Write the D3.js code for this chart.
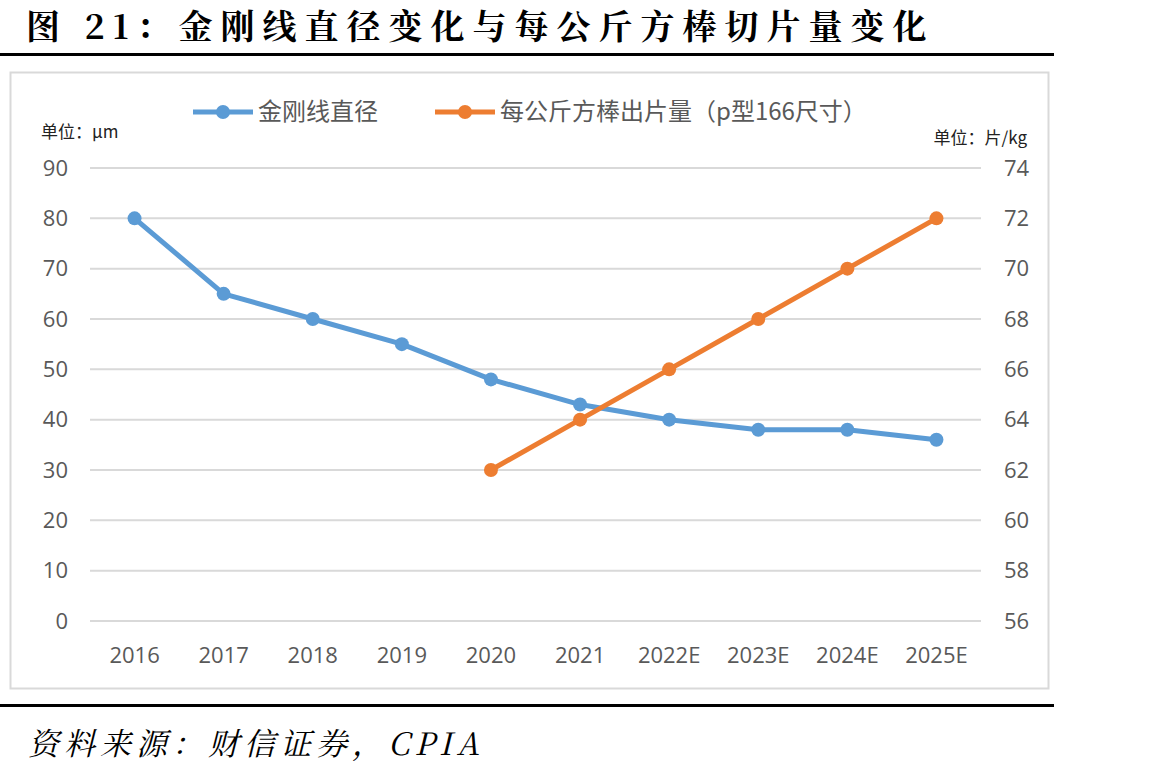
<!DOCTYPE html>
<html>
<head>
<meta charset="utf-8">
<script src="https://cdn.jsdelivr.net/npm/d3@7"></script>
<style>
  body { margin: 0; background: #fff; }
</style>
</head>
<body>
<div id="chart"></div>
<script>
// data
const years = ['2016', '2017', '2018', '2019', '2020', '2021', '2022E', '2023E', '2024E', '2025E'];
const wireDiameter = [80, 65, 60, 55, 48, 43, 40, 38, 38, 36];
const wafersPerKg = [null, null, null, null, 62, 64, 66, 68, 70, 72];
const leftTicks = [0, 10, 20, 30, 40, 50, 60, 70, 80, 90];
const rightTicks = [56, 58, 60, 62, 64, 66, 68, 70, 72, 74];
const seriesNames = ['金刚线直径', '每公斤方棒出片量（p型166尺寸）'];

const w = 1157, h = 774;
const blue = '#5B9BD5', orange = '#ED7D31', grey = '#595959';
const cjk = '"Noto Sans CJK SC", "Noto Sans", sans-serif';
const num = '"Open Sans", "Noto Sans CJK SC", sans-serif';
const serif = '"Noto Serif CJK SC", "Liberation Serif", "DejaVu Serif", serif';

const svg = d3.select('#chart').append('svg')
  .attr('width', w).attr('height', h);

// title + rules
svg.append('text').attr('x', 26).attr('y', 39)
  .style('font-family', serif).style('font-weight', 'bold').style('font-size', '34px')
  .style('letter-spacing', '8px')
  .text('图 21：金刚线直径变化与每公斤方棒切片量变化');
svg.append('rect').attr('x', 0).attr('y', 53).attr('width', 1054).attr('height', 3).attr('fill', '#000');
svg.append('rect').attr('x', 0).attr('y', 704).attr('width', 1054).attr('height', 3).attr('fill', '#000');
svg.append('text').attr('x', 28).attr('y', 755)
  .style('font-family', serif).style('font-style', 'italic').style('font-size', '31px')
  .style('letter-spacing', '5px')
  .text('资料来源：财信证券，CPIA');

// chart frame
svg.append('rect').attr('x', 10.5).attr('y', 72.5).attr('width', 1038).attr('height', 616)
  .attr('fill', '#fff').attr('stroke', '#d9d9d9').attr('stroke-width', 2);

// scales
const xScale = d3.scaleBand().domain(years).range([90, 981]);
const yLeft = d3.scaleLinear().domain([0, 90]).range([621, 168]);
const yRight = d3.scaleLinear().domain([56, 74]).range([621, 168]);
const cx = d => xScale(d) + xScale.bandwidth() / 2;

// gridlines
svg.append('g').selectAll('line').data(leftTicks).enter().append('line')
  .attr('x1', 90).attr('x2', 981)
  .attr('y1', d => yLeft(d)).attr('y2', d => yLeft(d))
  .attr('stroke', '#d9d9d9').attr('stroke-width', 2);

// axes
const yAxisL = svg.append('g').attr('transform', 'translate(68,0)')
  .call(d3.axisLeft(yLeft).tickValues(leftTicks).tickSize(0).tickPadding(0));
const yAxisR = svg.append('g').attr('transform', 'translate(1004,0)')
  .call(d3.axisRight(yRight).tickValues(rightTicks).tickSize(0).tickPadding(0));
const xAxis = svg.append('g').attr('transform', 'translate(0,655)')
  .call(d3.axisBottom(xScale).tickSize(0).tickPadding(0));
[yAxisL, yAxisR, xAxis].forEach(a => {
  a.select('.domain').remove();
  a.selectAll('text').style('font-family', num).style('font-size', '22px').attr('fill', grey);
});
xAxis.selectAll('text').attr('dy', '0.35em');

// unit labels
svg.append('text').attr('x', 41).attr('y', 138)
  .style('font-family', cjk).style('font-size', '17px').attr('fill', '#222').text('单位：μm');
svg.append('text').attr('x', 1027).attr('y', 144).attr('text-anchor', 'end')
  .style('font-family', cjk).style('font-size', '17px').attr('fill', '#222').text('单位：片/kg');

// lines
const series = [
  { values: wireDiameter, scale: yLeft, color: blue },
  { values: wafersPerKg, scale: yRight, color: orange }
];
series.forEach(s => {
  const pts = years.map((y, i) => [y, s.values[i]]).filter(d => d[1] != null);
  svg.append('path').datum(pts)
    .attr('fill', 'none').attr('stroke', s.color).attr('stroke-width', 5)
    .attr('stroke-linejoin', 'round')
    .attr('d', d3.line().x(d => cx(d[0])).y(d => s.scale(d[1])));
  svg.append('g').selectAll('circle').data(pts).enter().append('circle')
    .attr('cx', d => cx(d[0])).attr('cy', d => s.scale(d[1])).attr('r', 7)
    .attr('fill', s.color);
});

// legend
const legendX = [193, 435];
seriesNames.forEach((name, i) => {
  const g = svg.append('g').attr('transform', `translate(${legendX[i]},112)`);
  g.append('line').attr('x1', 0).attr('x2', 60).attr('stroke', series[i].color).attr('stroke-width', 5);
  g.append('circle').attr('cx', 30).attr('r', 7).attr('fill', series[i].color);
  g.append('text').attr('x', 65).attr('dy', '0.35em')
    .style('font-family', cjk).style('font-size', '24px').attr('fill', grey).text(name);
});
</script>
</body>
</html>
